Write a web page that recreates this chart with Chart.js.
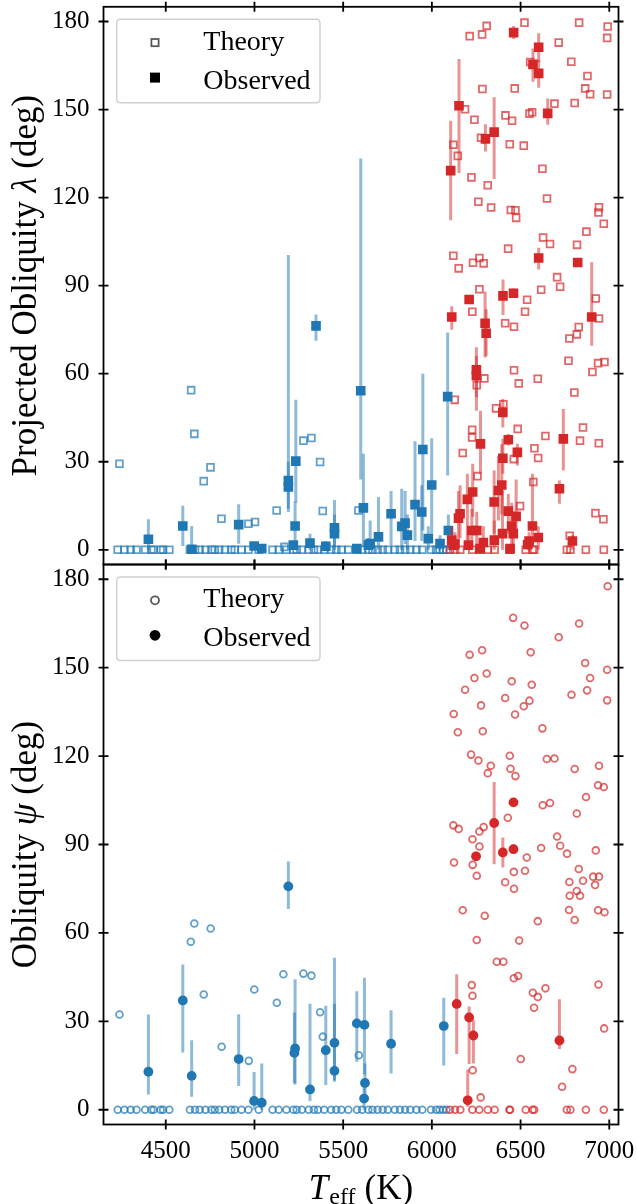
<!DOCTYPE html>
<html>
<head>
<meta charset="utf-8">
<script src="https://cdn.jsdelivr.net/npm/chart.js@4.4.0/dist/chart.umd.min.js"></script>
<style>
  html, body { margin: 0; padding: 0; background: #ffffff; }
  #wrap { position: relative; width: 637px; height: 1204px; }
  #wrap canvas { position: absolute; left: 0; top: 0; }
</style>
</head>
<body>
<div id="wrap">
  <canvas id="lamChart" width="637" height="1204"></canvas>
  <canvas id="psiChart" width="637" height="1204"></canvas>
</div>
<script>
// ---- axis ticks ----
const teffTicks = [4500, 5000, 5500, 6000, 6500, 7000];
const angleTicks = [0, 30, 60, 90, 120, 150, 180];

// ---- projected obliquity (lambda): theory, cool hosts ----
const lamTheoryCoolTeff = [4239, 4643, 4661, 4752, 4714, 4814, 4966, 5003, 5125, 5276, 5321, 5370, 5385, 5586, 5169,
  4229, 4267, 4302, 4335, 4384, 4419, 4432, 4471, 4485, 4520, 4636, 4665, 4691, 4724, 4757, 4776, 4801, 4834, 4869, 4889,
  4927, 4966, 5024, 5102, 5137, 5180, 5219, 5238, 5267, 5306, 5335, 5358, 5393, 5432, 5461, 5490, 5529, 5578, 5607, 5642,
  5665, 5694, 5723, 5752, 5791, 5820, 5849, 5878, 5913, 5946, 5995, 6024, 6043, 6063, 6082];
const lamTheoryCoolVal = [29.3, 54.4, 39.5, 28.1, 23.4, 10.6, 8.9, 9.5, 13.4, 37.2, 38.1, 29.9, 13.2, 13.4, 1.0,
  0, 0, 0, 0, 0, 0, 0, 0, 0, 0, 0, 0, 0, 0, 0, 0, 0, 0, 0, 0,
  0, 0, 0, 0, 0, 0, 0, 0, 0, 0, 0, 0, 0, 0, 0, 0, 0, 0, 0, 0,
  0, 0, 0, 0, 0, 0, 0, 0, 0, 0, 0, 0, 0, 0, 0];

// ---- projected obliquity (lambda): theory, hot hosts ----
const lamTheoryHotTeff = [6213, 6283, 6309, 6522, 6830, 6991, 6988, 6715, 6554, 6786, 6877, 6864, 6892, 6988, 6285, 6467,
  6187, 6240, 6415, 6452, 6550, 6565, 6691, 6805, 6121, 6146, 6277, 6439, 6518, 6223, 6315, 6623, 6262, 6334, 6445, 6471,
  6475, 6649, 6942, 6939, 6969, 6871, 6627, 6666, 6818, 6430, 6121, 6151, 6232, 6268, 6292, 6706, 6723, 6268, 6616, 6537,
  6924, 6228, 6525, 6413, 6463, 6775, 6817, 6828, 6942, 6770, 6937, 6973, 6905, 6463, 6490, 6597, 6296, 6253, 6129, 6362,
  6403, 6803, 6227, 6227, 6484, 6640, 6852, 6835, 6941, 6174, 6578, 6599, 6462, 6257, 6572, 6497, 6922, 6967, 6777,
  6102, 6131, 6160, 6228, 6267, 6315, 6354, 6437, 6441, 6529, 6568, 6577, 6761, 6781, 6868, 6969];
const lamTheoryHotVal = [175.0, 175.6, 178.5, 179.6, 179.6, 178.3, 174.4, 172.8, 166.2, 166.3, 161.4, 157.2, 155.2, 155.1, 157.0, 157.2,
  150.1, 146.5, 148.0, 146.2, 148.6, 149.1, 152.0, 152.2, 138.0, 134.2, 140.4, 138.2, 137.7, 126.9, 124.2, 129.8, 118.6, 116.6, 115.8, 115.7,
  113.1, 119.7, 116.7, 114.9, 111.1, 108.4, 106.4, 104.2, 103.9, 102.6, 100.2, 95.9, 97.8, 99.4, 97.6, 92.9, 89.6, 88.8, 88.6, 85.2,
  85.6, 81.1, 81.1, 77.2, 76.0, 72.0, 73.4, 75.9, 78.8, 64.4, 63.6, 64.0, 60.6, 61.2, 56.7, 58.3, 58.4, 56.1, 51.1, 48.2,
  49.6, 53.6, 40.9, 38.3, 41.2, 38.8, 41.7, 37.2, 36.3, 33.0, 34.6, 31.3, 30.9, 25.1, 23.1, 14.9, 12.5, 10.4, 4.8,
  0, 0, 0, 0, 0, 0, 0, 0, 0, 0, 0, 0, 0, 0, 0, 0];

// ---- projected obliquity (lambda): measurements with error ranges ----
const lamObsCoolTeff = [4402, 4596, 4646, 4911, 4998, 5041, 5191, 5191, 5233, 5229, 5219, 5313, 5347, 5402, 5451, 5451, 5577,
  5599, 5614, 5642, 5652, 5699, 5770, 5830, 5849, 5862, 5905, 5943, 5949, 5980, 5999, 6046, 6089, 6093];
const lamObsCoolVal = [3.6, 8.1, 0.2, 8.6, 1.3, 0.4, 23.6, 21.4, 30.2, 8.1, 1.6, 2.3, 76.3, 1.2, 7.5, 5.5, 0.4,
  54.2, 14.3, 1.6, 2.1, 4.4, 12.3, 8.0, 9.1, 5.0, 15.4, 12.9, 34.2, 3.8, 22.1, 2.1, 52.2, 6.6];
const lamObsCoolLow = [0, 1.3, 0, 2.1, 0, 0, 12.9, 14.0, 16.0, 1.0, 0, 0, 71.2, 0, 1.0, 0, 0,
  24.0, 1.0, 0, 0, 0, 1.5, 0, 2.0, 0, 3.0, 3.0, 6.6, 0, 5.5, 0, 25.3, 0];
const lamObsCoolHigh = [10.4, 15.0, 8.1, 15.5, 2.5, 1.5, 100.4, 30.0, 51.1, 16.5, 3.0, 5.5, 80.2, 3.0, 17.0, 12.0, 1.0,
  133.3, 32.7, 4.0, 10.0, 18.0, 20.0, 20.8, 20.0, 12.0, 37.0, 22.0, 60.0, 8.0, 38.0, 5.0, 74.0, 12.0];

const lamObsHotTeff = [6461, 6602, 6570, 6602, 6153, 6106, 6302, 6351, 6653, 6602, 6822, 6401, 6460, 6210, 6112, 6300, 6306,
  6901, 6251, 6251, 6400, 6274, 6431, 6400, 6482, 6741, 6719, 6230, 6200, 6375, 6394, 6351, 6431, 6475, 6567, 6600, 6450,
  6459, 6150, 6159, 6225, 6253, 6112, 6121, 6206, 6272, 6352, 6398, 6441, 6540, 6792, 6548, 6130, 6290];
const lamObsHotVal = [176.2, 171.2, 165.4, 162.3, 151.3, 129.2, 140.0, 142.3, 148.7, 99.4, 97.9, 86.5, 87.4, 85.3, 79.3, 77.2, 73.8,
  79.3, 61.3, 59.3, 46.8, 36.1, 37.5, 31.2, 33.2, 37.8, 20.8, 19.7, 17.2, 20.2, 22.1, 16.3, 13.2, 11.4, 8.1, 4.2, 8.1,
  5.5, 10.8, 12.3, 6.6, 6.6, 3.3, 1.6, 1.6, 0.4, 3.3, 5.5, 0.4, 1.8, 3.0, 3.0, 2.0, 2.5];
const lamObsHotLow = [174.0, 166.0, 159.5, 157.4, 128.4, 112.3, 135.7, 126.3, 144.8, 95.5, 96.5, 80.0, 86.0, 84.0, 75.0, 65.5, 66.0,
  69.5, 47.4, 52.0, 41.7, 25.9, 35.5, 25.9, 28.7, 27.0, 15.7, 11.2, 3.3, 10.0, 12.0, 5.5, 5.5, 5.0, 1.0, 0, 2.0,
  0, 3.0, 4.0, 0, 0, 0, 0, 0, 0, 0, 0, 0, 0, 0, 0, 0, 0];
const lamObsHotHigh = [178.5, 176.0, 170.8, 167.0, 167.2, 146.2, 145.0, 154.2, 153.8, 102.9, 99.3, 92.1, 89.0, 86.6, 83.0, 88.0, 82.0,
  98.0, 69.0, 66.0, 51.4, 47.4, 39.5, 37.8, 36.1, 48.0, 23.6, 29.3, 25.9, 32.0, 36.0, 27.0, 19.0, 24.0, 25.9, 8.0, 16.0,
  12.0, 20.0, 22.0, 14.0, 13.0, 8.0, 4.0, 5.0, 2.0, 10.0, 20.0, 2.0, 4.0, 5.0, 6.0, 6.0, 8.0];

// ---- true obliquity (psi): theory, cool hosts ----
const psiTheoryCoolTeff = [4239, 4661, 4641, 4753, 4714, 4815, 4968, 4999, 5126, 5163, 5276, 5321, 5370, 5385, 5588,
  4229, 4267, 4302, 4335, 4384, 4419, 4432, 4471, 4485, 4520, 4636, 4665, 4691, 4724, 4757, 4776, 4801, 4834, 4869, 4889,
  4927, 4966, 5024, 5102, 5137, 5180, 5219, 5238, 5267, 5306, 5335, 5358, 5393, 5432, 5461, 5490, 5529, 5578, 5607, 5642,
  5665, 5694, 5723, 5752, 5791, 5820, 5849, 5878, 5913, 5946, 5995, 6024, 6043, 6063, 6082];
const psiTheoryCoolVal = [32.3, 63.2, 57.0, 61.5, 39.1, 21.4, 16.6, 40.8, 36.3, 46.0, 46.2, 45.5, 33.1, 24.8, 18.5,
  0, 0, 0, 0, 0, 0, 0, 0, 0, 0, 0, 0, 0, 0, 0, 0, 0, 0, 0, 0,
  0, 0, 0, 0, 0, 0, 0, 0, 0, 0, 0, 0, 0, 0, 0, 0, 0, 0, 0, 0,
  0, 0, 0, 0, 0, 0, 0, 0, 0, 0, 0, 0, 0, 0, 0];

// ---- true obliquity (psi): theory, hot hosts ----
const psiTheoryHotTeff = [6991, 6458, 6522, 6830, 6715, 6213, 6283, 6557, 6864, 6988, 6892, 6875, 6787, 6988, 6240, 6309,
  6187, 6450, 6563, 6413, 6550, 6518, 6277, 6469, 6123, 6146, 6287, 6623, 6221, 6262, 6332, 6315, 6439, 6443, 6471, 6648,
  6691, 6805, 6942, 6937, 6969, 6869, 6625, 6666, 6817, 6428, 6121, 6151, 6229, 6268, 6292, 6268, 6706, 6723, 6762, 6924,
  6616, 6535, 6125, 6230, 6253, 6462, 6525, 6413, 6463, 6775, 6828, 6852, 6909, 6942, 6920, 6817, 6777, 6835, 6174, 6298,
  6773, 6805, 6937, 6973, 6597, 6253, 6492, 6366, 6403, 6462, 6486, 6225, 6229, 6569, 6597, 6640, 6576, 6939, 6971, 6501,
  6230, 6792, 6734, 6275,
  6102, 6131, 6160, 6228, 6267, 6315, 6354, 6437, 6441, 6529, 6568, 6577, 6761, 6781, 6868, 6969];
const psiTheoryHotVal = [177.6, 166.9, 164.3, 165.0, 160.3, 154.4, 155.9, 155.2, 151.6, 149.3, 146.5, 142.3, 140.8, 138.9, 146.5, 148.0,
  142.5, 145.4, 144.2, 139.7, 138.8, 136.9, 137.2, 134.1, 134.3, 128.1, 128.4, 129.4, 120.5, 118.5, 116.7, 114.2, 120.1, 115.7, 113.2, 119.0,
  119.2, 115.6, 116.7, 110.1, 109.5, 106.1, 103.3, 104.1, 100.5, 99.1, 96.5, 95.3, 91.8, 89.3, 95.9, 94.4, 92.7, 89.6, 86.9, 88.0,
  88.8, 85.6, 83.9, 83.1, 79.4, 80.7, 81.1, 77.2, 75.0, 77.3, 81.7, 77.7, 79.1, 79.1, 76.3, 74.2, 72.6, 72.6, 67.7, 65.8,
  67.8, 64.4, 67.7, 67.0, 64.0, 57.6, 57.4, 50.2, 50.2, 44.6, 45.4, 42.3, 38.7, 39.7, 38.3, 41.2, 34.6, 42.5, 27.6, 17.2,
  13.4, 13.8, 7.8, 4.2,
  0, 0, 0, 0, 0, 0, 0, 0, 0, 0, 0, 0, 0, 0, 0, 0];

// ---- true obliquity (psi): measurements with error ranges ----
const psiObsCoolTeff = [4402, 4596, 4646, 4911, 4998, 5041, 5191, 5229, 5225, 5313, 5402, 5451, 5451, 5577, 5620, 5623, 5618, 5770, 6067];
const psiObsCoolVal = [12.9, 37.1, 11.5, 17.2, 3.0, 2.4, 75.8, 20.8, 19.3, 6.9, 20.2, 22.7, 13.2, 29.3, 28.8, 9.1, 3.8, 22.4, 28.4];
const psiObsCoolLow = [5.2, 19.4, 4.4, 8.1, 0, 0, 68.1, 8.6, 9.0, 3.0, 8.4, 10.0, 9.5, 16.3, 12.0, 3.0, 0, 12.3, 15.0];
const psiObsCoolHigh = [32.3, 49.3, 23.6, 32.4, 12.8, 15.7, 84.2, 44.3, 33.0, 36.0, 35.3, 51.6, 36.0, 40.2, 44.8, 15.7, 8.0, 33.8, 38.0];

const psiObsHotTeff = [6140, 6210, 6234, 6202, 6719, 6460, 6351, 6400, 6460, 6249];
const psiObsHotVal = [35.9, 31.3, 25.2, 3.2, 23.5, 104.3, 97.3, 87.3, 88.4, 86.0];
const psiObsHotLow = [18.9, 15.5, 15.7, 1.0, 20.6, 103.0, 83.3, 82.2, 87.0, 84.5];
const psiObsHotHigh = [46.0, 35.0, 30.4, 13.7, 37.5, 105.5, 111.2, 92.4, 90.0, 87.5];

// ---- styling ----
const SERIF = '"Liberation Serif", "DejaVu Serif", serif';
const COOL = '31,119,180';
const HOT = '214,39,40';
const TEFF_MIN = 4149, TEFF_MAX = 7052;
const ANG_MIN = -5, ANG_MAX = 185;
const PLOT_LEFT = 103.5, PLOT_RIGHT = 618.5;
const SPLIT_Y = 564.5, TOP_Y = 4, BOTTOM_Y = 1124.5, PAGE_H = 1204, PAGE_W = 637;

function toPoints(xs, ys) { return xs.map((x, i) => ({ x: x, y: ys[i] })); }

function theorySet(label, xs, ys, rgb, shape, radius, order) {
  const edge = 'rgba(' + rgb + ',0.7)';
  return {
    label, data: toPoints(xs, ys), order, showLine: false,
    pointStyle: shape, pointRadius: radius, pointHoverRadius: radius,
    pointBorderWidth: 1.8, borderWidth: 1.8,
    pointBorderColor: edge, borderColor: edge,
    pointBackgroundColor: 'rgba(0,0,0,0)', backgroundColor: 'rgba(0,0,0,0)'
  };
}

function measuredSet(label, xs, ys, lo, hi, rgb, shape, radius, order) {
  const fill = 'rgb(' + rgb + ')';
  return {
    label, data: toPoints(xs, ys), order, showLine: false,
    errLow: lo, errHigh: hi, errColor: 'rgba(' + rgb + ',0.5)',
    pointStyle: shape, pointRadius: radius, pointHoverRadius: radius,
    pointBorderWidth: 0, borderWidth: 0,
    pointBorderColor: fill, borderColor: fill,
    pointBackgroundColor: fill, backgroundColor: fill
  };
}

// vertical error bars, drawn just beneath the markers of their own dataset
const errorBars = {
  id: 'errorBars',
  beforeDatasetDraw(chart, args) {
    const ds = chart.data.datasets[args.index];
    if (!ds.errLow) return;
    const { ctx, chartArea: a } = chart;
    const xs = chart.scales[args.meta.xAxisID];
    const ys = chart.scales[args.meta.yAxisID];
    ctx.save();
    ctx.beginPath();
    ctx.rect(a.left, a.top, a.right - a.left, a.bottom - a.top);
    ctx.clip();
    ctx.strokeStyle = ds.errColor;
    ctx.lineWidth = 3;
    ctx.lineCap = 'butt';
    ds.data.forEach((p, i) => {
      const px = xs.getPixelForValue(p.x);
      ctx.beginPath();
      ctx.moveTo(px, ys.getPixelForValue(ds.errLow[i]));
      ctx.lineTo(px, ys.getPixelForValue(ds.errHigh[i]));
      ctx.stroke();
    });
    ctx.restore();
  }
};

function drawParts(ctx, parts, x0, y0) {
  let x = x0;
  parts.forEach(p => {
    ctx.font = p.font;
    ctx.fillText(p.text, x, y0 + (p.dy || 0));
    x += ctx.measureText(p.text).width + (p.gap || 0);
  });
}
function partsWidth(ctx, parts) {
  let w = 0;
  parts.forEach(p => { ctx.font = p.font; w += ctx.measureText(p.text).width + (p.gap || 0); });
  return w;
}

function roundedRect(ctx, x, y, w, h, r) {
  ctx.beginPath();
  ctx.moveTo(x + r, y);
  ctx.lineTo(x + w - r, y);
  ctx.quadraticCurveTo(x + w, y, x + w, y + r);
  ctx.lineTo(x + w, y + h - r);
  ctx.quadraticCurveTo(x + w, y + h, x + w - r, y + h);
  ctx.lineTo(x + r, y + h);
  ctx.quadraticCurveTo(x, y + h, x, y + h - r);
  ctx.lineTo(x, y + r);
  ctx.quadraticCurveTo(x, y, x + r, y);
  ctx.closePath();
}

// frame with in-and-out ticks on all sides, legend box and axis titles
const panelDecor = {
  id: 'panelDecor',
  afterDraw(chart, args, opts) {
    const { ctx, chartArea: a, scales } = chart;
    const xs = scales.x, ys = scales.y;
    ctx.save();

    // frame
    ctx.strokeStyle = '#000';
    ctx.lineWidth = 1.8;
    ctx.strokeRect(a.left, a.top, a.right - a.left, a.bottom - a.top);
    const L = 5;
    ctx.beginPath();
    teffTicks.forEach(v => {
      const p = xs.getPixelForValue(v);
      ctx.moveTo(p, a.top - L); ctx.lineTo(p, a.top + L);
      ctx.moveTo(p, a.bottom - L); ctx.lineTo(p, a.bottom + L);
    });
    angleTicks.forEach(v => {
      const p = ys.getPixelForValue(v);
      ctx.moveTo(a.left - L, p); ctx.lineTo(a.left + L, p);
      ctx.moveTo(a.right - L, p); ctx.lineTo(a.right + L, p);
    });
    ctx.stroke();

    // legend
    const bx = a.left + 13.2, by = a.top + 12.5, bw = 203.3, bh = 83.5;
    roundedRect(ctx, bx, by, bw, bh, 4);
    ctx.fillStyle = 'rgba(255,255,255,0.8)';
    ctx.fill();
    ctx.strokeStyle = '#d0d0d0';
    ctx.lineWidth = 1.4;
    ctx.stroke();
    const mx = bx + 38.3, my1 = by + 23.3, my2 = by + 58.3;
    ctx.lineWidth = 1.8;
    ctx.strokeStyle = 'rgba(0,0,0,0.65)';
    ctx.fillStyle = '#000';
    if (opts.shape === 'rect') {
      ctx.strokeRect(mx - 3.6, my1 - 3.6, 7.2, 7.2);
      ctx.fillRect(mx - 5, my2 - 5, 10, 10);
    } else {
      ctx.beginPath(); ctx.arc(mx, my1, 4, 0, Math.PI * 2); ctx.stroke();
      ctx.beginPath(); ctx.arc(mx, my2, 5.4, 0, Math.PI * 2); ctx.fill();
    }
    ctx.fillStyle = '#000';
    ctx.textAlign = 'left';
    ctx.textBaseline = 'alphabetic';
    ctx.font = '28px ' + SERIF;
    ctx.fillText('Theory', bx + 86.6, by + 30.2);
    ctx.fillText('Observed', bx + 86.6, by + 69.2);

    // y axis title (rotated)
    const big = '35px ' + SERIF, bigIt = 'italic 35px ' + SERIF;
    const yParts = opts.yTitle.map(t => ({ text: t.text, font: t.italic ? bigIt : big }));
    ctx.save();
    ctx.translate(opts.yTitleX, (a.top + a.bottom) / 2);
    ctx.rotate(-Math.PI / 2);
    drawParts(ctx, yParts, -partsWidth(ctx, yParts) / 2, 0);
    ctx.restore();

    // x axis title on the lower panel
    if (opts.xTitle) {
      const xParts = [
        { text: 'T', font: bigIt, gap: 1 },
        { text: 'eff', font: '24px ' + SERIF, dy: 5, gap: 9 },
        { text: '(K)', font: big }
      ];
      drawParts(ctx, xParts, (a.left + a.right) / 2 - partsWidth(ctx, xParts) / 2, 1198.8);
    }
    ctx.restore();
  }
};

function panelOptions(cfg) {
  return {
    responsive: false,
    animation: false,
    devicePixelRatio: 1,
    events: [],
    layout: { padding: cfg.padding },
    plugins: {
      legend: { display: false },
      tooltip: { enabled: false },
      panelDecor: cfg.decor
    },
    scales: {
      x: {
        type: 'linear', min: TEFF_MIN, max: TEFF_MAX, display: cfg.showX,
        grid: { display: false, drawTicks: false }, border: { display: false },
        ticks: {
          font: { family: SERIF, size: 25 }, color: '#000', padding: 12, maxRotation: 0, autoSkip: false, includeBounds: false,
          callback: v => String(v)
        },
        afterBuildTicks: s => { s.ticks = teffTicks.map(v => ({ value: v })); },
        afterFit: s => { s.height = cfg.xHeight; s.paddingLeft = 0; s.paddingRight = 0; }
      },
      y: {
        type: 'linear', min: ANG_MIN, max: ANG_MAX,
        grid: { display: false, drawTicks: false }, border: { display: false },
        ticks: { font: { family: SERIF, size: 25 }, color: '#000', padding: 14, includeBounds: false, callback: v => String(v) },
        afterBuildTicks: s => { s.ticks = angleTicks.map(v => ({ value: v })); },
        afterFit: s => { s.width = PLOT_LEFT; s.paddingTop = 0; s.paddingBottom = 0; }
      }
    }
  };
}

Chart.defaults.font.family = SERIF;

new Chart(document.getElementById('lamChart'), {
  type: 'scatter',
  data: {
    datasets: [
      theorySet('Theory (cool)', lamTheoryCoolTeff, lamTheoryCoolVal, COOL, 'rect', 4.8, 3),
      theorySet('Theory (hot)', lamTheoryHotTeff, lamTheoryHotVal, HOT, 'rect', 4.8, 2),
      measuredSet('Observed (cool)', lamObsCoolTeff, lamObsCoolVal, lamObsCoolLow, lamObsCoolHigh, COOL, 'rect', 6.8, 1),
      measuredSet('Observed (hot)', lamObsHotTeff, lamObsHotVal, lamObsHotLow, lamObsHotHigh, HOT, 'rect', 6.8, 0)
    ]
  },
  options: panelOptions({
    padding: { top: TOP_Y, bottom: PAGE_H - SPLIT_Y, left: 0, right: PAGE_W - PLOT_RIGHT },
    showX: false, xHeight: 0,
    decor: { shape: 'rect', yTitleX: 36, yTitle: [{ text: 'Projected Obliquity ' }, { text: 'λ', italic: true }, { text: ' (deg)' }] }
  }),
  plugins: [errorBars, panelDecor]
});

new Chart(document.getElementById('psiChart'), {
  type: 'scatter',
  data: {
    datasets: [
      theorySet('Theory (cool)', psiTheoryCoolTeff, psiTheoryCoolVal, COOL, 'circle', 3.4, 3),
      theorySet('Theory (hot)', psiTheoryHotTeff, psiTheoryHotVal, HOT, 'circle', 3.4, 2),
      measuredSet('Observed (cool)', psiObsCoolTeff, psiObsCoolVal, psiObsCoolLow, psiObsCoolHigh, COOL, 'circle', 4.9, 1),
      measuredSet('Observed (hot)', psiObsHotTeff, psiObsHotVal, psiObsHotLow, psiObsHotHigh, HOT, 'circle', 4.9, 0)
    ]
  },
  options: panelOptions({
    padding: { top: SPLIT_Y, bottom: 0, left: 0, right: PAGE_W - PLOT_RIGHT },
    showX: true, xHeight: PAGE_H - BOTTOM_Y,
    decor: { shape: 'circle', xTitle: true, yTitleX: 36, yTitle: [{ text: 'Obliquity ' }, { text: 'ψ', italic: true }, { text: ' (deg)' }] }
  }),
  plugins: [errorBars, panelDecor]
});
</script>
</body>
</html>
